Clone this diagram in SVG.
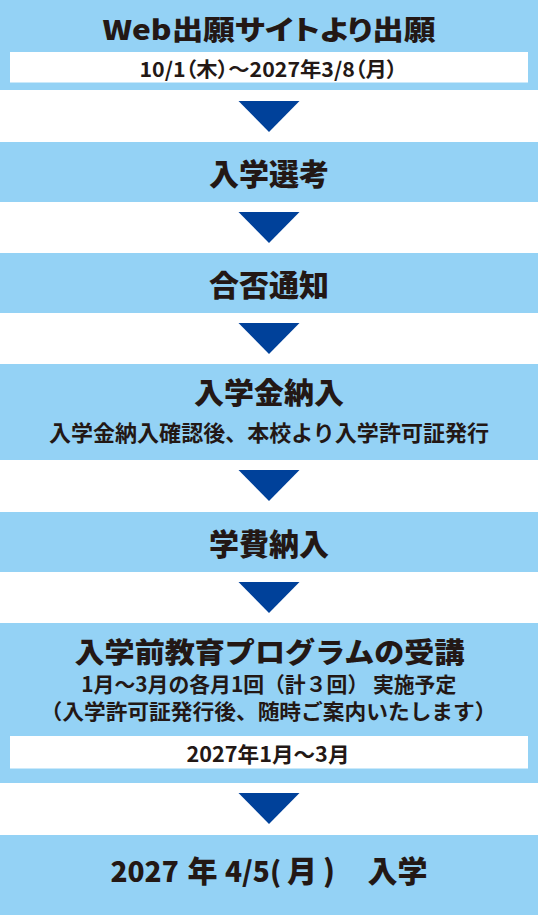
<svg xmlns="http://www.w3.org/2000/svg" width="538" height="915" viewBox="0 0 538 915">
<style>
.box{fill:#94D2F5}
.inner{fill:#FFFFFF}
.arrow{fill:#00419A}
text{font-family:"Noto Sans CJK JP","Noto Sans",sans-serif;font-weight:700;fill:#231815}
.t30{font-size:30px;text-anchor:middle}
.heavy{font-weight:900}
.palt{font-feature-settings:"palt"}
</style>
<rect width="538" height="915" fill="#FFFFFF"/>
<g id="connectors">
<polygon class="arrow" points="238.5,101 299.5,101 269,132"/>
<polygon class="arrow" points="238.5,212 299.5,212 269,243"/>
<polygon class="arrow" points="238.5,323 299.5,323 269,354"/>
<polygon class="arrow" points="238.5,470 299.5,470 269,501"/>
<polygon class="arrow" points="238.5,582 299.5,582 269,613"/>
<polygon class="arrow" points="238.5,793 299.5,793 269,824"/>
</g>
<g id="node-apply">
<rect class="box" x="0" y="0" width="538" height="90"/>
<rect class="inner" x="10" y="52" width="518" height="30.5"/>
<text class="palt heavy" x="269" y="39.5" font-size="27" text-anchor="middle" textLength="333" lengthAdjust="spacingAndGlyphs">Web出願サイトより出願</text>
<text class="palt" x="268.5" y="76.5" font-size="20.5" text-anchor="middle" textLength="258" lengthAdjust="spacingAndGlyphs">10/1（木）～2027年3/8（月）</text>
</g>
<g id="node-selection">
<rect class="box" x="0" y="142" width="538" height="60"/>
<text class="t30 heavy" x="269" y="185.3">入学選考</text>
</g>
<g id="node-result">
<rect class="box" x="0" y="253" width="538" height="60"/>
<text class="t30 heavy" x="269" y="296.3">合否通知</text>
</g>
<g id="node-admission-fee">
<rect class="box" x="0" y="364" width="538" height="96"/>
<text class="heavy" x="269" y="404" font-size="29" text-anchor="middle" textLength="150" lengthAdjust="spacingAndGlyphs">入学金納入</text>
<text x="269" y="441" font-size="22" text-anchor="middle" textLength="440" lengthAdjust="spacingAndGlyphs">入学金納入確認後、本校より入学許可証発行</text>
</g>
<g id="node-tuition">
<rect class="box" x="0" y="512" width="538" height="60"/>
<text class="t30 heavy" x="269" y="554.7">学費納入</text>
</g>
<g id="node-program">
<rect class="box" x="0" y="623" width="538" height="160"/>
<text class="heavy" x="269.5" y="663" font-size="28" text-anchor="middle" textLength="390" lengthAdjust="spacingAndGlyphs">入学前教育プログラムの受講</text>
<text x="268.8" y="692" font-size="21" text-anchor="middle" textLength="375" lengthAdjust="spacingAndGlyphs">1月～3月の各月1回（計３回） 実施予定</text>
<text x="268.5" y="718.5" font-size="21" text-anchor="middle" textLength="456" lengthAdjust="spacingAndGlyphs">（入学許可証発行後、随時ご案内いたします）</text>
<rect class="inner" x="10" y="736" width="518" height="32.5"/>
<text x="268" y="761.5" font-size="21" text-anchor="middle" textLength="163" lengthAdjust="spacingAndGlyphs">2027年1月～3月</text>
</g>
<g id="node-entrance">
<rect class="box" x="0" y="835" width="538" height="80"/>
<text class="heavy" y="881.5" font-size="30"><tspan x="110.5" font-size="28">2027 </tspan><tspan x="187.5">年 </tspan><tspan x="225" font-size="28">4/5( </tspan><tspan x="287">月 </tspan><tspan x="323">)　</tspan><tspan x="367.5">入学</tspan></text>
</g>
</svg>
